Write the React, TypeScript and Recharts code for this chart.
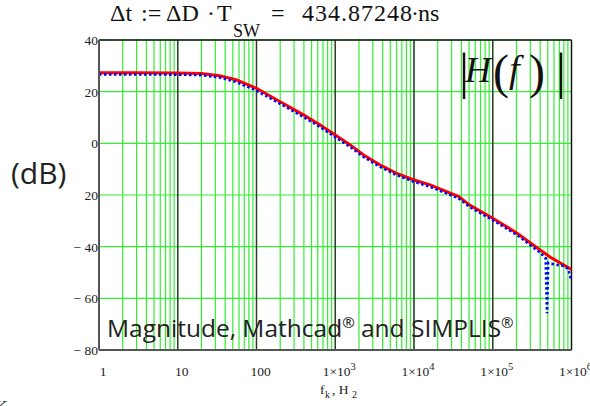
import React from "react";
import { LineChart, Line, XAxis, YAxis, CartesianGrid, ReferenceLine } from "recharts";

// Mathcad (red, solid) magnitude |H(f)| in dB
const mathcadFreq = [1, 3, 10, 20, 34, 56, 100, 200, 395, 645, 1000, 1550, 2290, 3720, 6030, 10000, 16000, 26000, 37000, 51000, 100000, 204000, 400000, 540000, 1000000];
const mathcadDb = [27.3, 27.3, 27.2, 27.0, 26.2, 24.5, 21.3, 16.1, 11.0, 7.1, 3.2, -0.6, -4.5, -8.4, -11.6, -14.2, -16.1, -18.7, -20.6, -23.9, -29.0, -34.8, -41.3, -44.1, -48.8];

// SIMPLIS (blue, dotted) magnitude in dB
const simplisFreq = [1, 10, 20, 34, 56, 100, 200, 395, 645, 1000, 1550, 2290, 3720, 6030, 10000, 16000, 26000, 37000, 51000, 100000, 204000, 400000, 470000, 489000, 505000, 600000, 800000, 900000, 1000000];
const simplisDb = [26.7, 26.6, 26.4, 25.5, 23.7, 20.4, 15.3, 10.2, 6.3, 2.4, -1.4, -5.3, -9.1, -12.3, -14.9, -16.8, -19.4, -21.3, -24.6, -29.7, -35.5, -42.3, -44.5, -65.8, -46.3, -46.8, -47.5, -48.5, -53.0];

// Axis ticks
const xGridTicks = [
  1, 2, 3, 4, 5, 6, 7, 8, 9,
  10, 20, 30, 40, 50, 60, 70, 80, 90,
  100, 200, 300, 400, 500, 600, 700, 800, 900,
  1000, 2000, 3000, 4000, 5000, 6000, 7000, 8000, 9000,
  10000, 20000, 30000, 40000, 50000, 60000, 70000, 80000, 90000,
  100000, 200000, 300000, 400000, 500000, 600000, 700000, 800000, 900000,
  1000000,
];
const xDecades = [1, 10, 100, 1000, 10000, 100000, 1000000];
const xDecadeBase = ["1", "10", "100", "1×10", "1×10", "1×10", "1×10"];
const xDecadeExp = ["", "", "", "3", "4", "5", "6"];
const yTicks = [-80, -60, -40, -20, 0, 20, 40];
const yTickLabels = ["− 80", "− 60", "− 40", "20", "0", "20", "40"];

const mathcadRows = mathcadFreq.map((f, i) => ({ f, db: mathcadDb[i] }));
const simplisRows = simplisFreq.map((f, i) => ({ f, db: simplisDb[i] }));

const SERIF = "'Liberation Serif', 'Times New Roman', 'DejaVu Serif', serif";
const SANS = "'Open Sans', 'Noto Sans', sans-serif";

const XTick = (props: any) => {
  const { x, y, payload } = props;
  const idx = xDecades.indexOf(payload.value);
  if (idx < 0) return <g />;
  return (
    <text x={x + 4} y={y + 26} textAnchor="middle" style={{ fontFamily: SERIF }} fontSize={13.5} fill="#222">
      {xDecadeBase[idx]}
      {xDecadeExp[idx] ? (
        <tspan fontSize={10.5} dy={-6}>{xDecadeExp[idx]}</tspan>
      ) : null}
    </text>
  );
};

const YTick = (props: any) => {
  const { x, y, payload } = props;
  const idx = yTicks.indexOf(payload.value);
  if (idx < 0) return <g />;
  return (
    <text x={x - 1} y={y + 5} textAnchor="end" style={{ fontFamily: SERIF }} fontSize={13.5} fill="#222">
      {yTickLabels[idx]}
    </text>
  );
};

export default function App() {
  return (
    <div style={{ position: "absolute", left: 0, top: 0, width: 590, height: 406, background: "#fff" }}>
      <LineChart
        width={590}
        height={406}
        margin={{ top: 40, right: 18.5, bottom: 26, left: 39 }}
      >
        <CartesianGrid stroke="#33ee33" strokeWidth={1.2} />
        <XAxis
          dataKey="f"
          type="number"
          scale="log"
          domain={[1, 1000000]}
          allowDataOverflow
          ticks={xGridTicks}
          interval={0}
          tick={<XTick />}
          tickLine={false}
          tickSize={0}
          tickMargin={0}
          height={30}
          axisLine={{ stroke: "#555", strokeWidth: 2 }}
        />
        <YAxis
          type="number"
          domain={[-80, 40]}
          ticks={yTicks}
          interval={0}
          tick={<YTick />}
          tickLine={false}
          tickSize={0}
          tickMargin={0}
          width={60}
          axisLine={{ stroke: "#555", strokeWidth: 2 }}
          allowDataOverflow
        />
        {xDecades.slice(1, 6).map((d) => (
          <ReferenceLine key={d} x={d} stroke="#333" strokeWidth={1.4} ifOverflow="visible" />
        ))}
        <ReferenceLine y={40} stroke="#111" strokeWidth={1.4} ifOverflow="visible" />
        <ReferenceLine x={1000000} stroke="#111" strokeWidth={1.4} ifOverflow="visible" />
        <Line
          data={mathcadRows}
          dataKey="db"
          type="linear"
          stroke="#ff0000"
          strokeWidth={3}
          dot={false}
          isAnimationActive={false}
        />
        <Line
          data={simplisRows}
          dataKey="db"
          type="linear"
          stroke="#0000ff"
          strokeWidth={2.6}
          strokeDasharray="2.5 2.5"
          dot={false}
          isAnimationActive={false}
        />
      </LineChart>
      <svg
        width={590}
        height={406}
        style={{ position: "absolute", left: 0, top: 0, pointerEvents: "none" }}
      >
        {/* Title */}
        <text style={{ fontFamily: SERIF }} fontSize={24} fill="#111" y={21}>
          <tspan x={110}>Δt</tspan>
          <tspan x={141}>:=</tspan>
          <tspan x={166}>ΔD</tspan>
          <tspan x={207}>·</tspan>
          <tspan x={217}>T</tspan>
          <tspan x={233} y={37} fontSize={18}>SW</tspan>
          <tspan x={271} y={21}>=</tspan>
          <tspan x={302} textLength={110}>434.87248</tspan>
          <tspan x={411}>·</tspan>
          <tspan x={418}>ns</tspan>
        </text>
        {/* |H(f)| */}
        <text style={{ fontFamily: SERIF }} fill="#111" y={88}>
          <tspan x={459} fontSize={50}>|</tspan>
          <tspan x={465} y={82} fontSize={36} fontStyle="italic">H</tspan>
          <tspan x={493} y={88} fontSize={48}>(</tspan>
          <tspan x={509} y={82} fontSize={38} fontStyle="italic">f</tspan>
          <tspan x={529} y={88} fontSize={48}>)</tspan>
          <tspan x={556} y={88} fontSize={50}>|</tspan>
        </text>
        {/* (dB) */}
        <text x={11} y={184} style={{ fontFamily: SANS }} fontSize={30} fill="#222">(dB)</text>
        {/* Legend text */}
        <text x={107} y={337} style={{ fontFamily: SANS }} fontSize={24.5} fill="#222">
          Magnitude, Mathcad<tspan fontSize={15} dy={-9}>®</tspan>
          <tspan dy={9}> and SIMPLIS</tspan>
          <tspan fontSize={15} dy={-9}>®</tspan>
        </text>
        {/* X axis label */}
        <text style={{ fontFamily: SERIF }} fontSize={13.5} fill="#222" y={394}>
          <tspan x={320}>f</tspan>
          <tspan x={325} y={398} fontSize={10}>k</tspan>
          <tspan x={332} y={394}>, H</tspan>
          <tspan x={352} y={398} fontSize={10}>2</tspan>
        </text>
        {/* stray glyph at bottom-left */}
        <text x={-6} y={414} style={{ fontFamily: SERIF }} fontStyle="italic" fontSize={18} fill="#222">K</text>
      </svg>
    </div>
  );
}
